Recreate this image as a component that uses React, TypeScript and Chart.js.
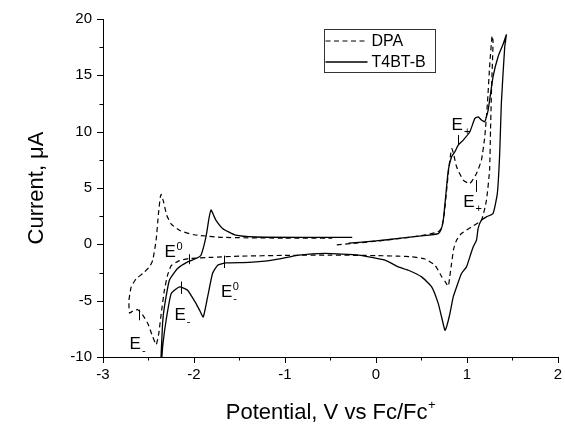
import React, { useEffect, useRef } from 'react';
import { Chart, registerables } from 'chart.js';

Chart.register(...registerables);

// ---------- data ----------
const seriesNames = ['DPA', 'T4BT-B'];

const dpaV = [
  -0.43, -0.2, 0.0, 0.3, 0.55, 0.68, 0.72, 0.75, 0.775, 0.8, 0.82, 0.835, 0.855, 0.887, 0.96, 1.033,
  1.106, 1.16, 1.197, 1.226, 1.252, 1.277, 1.288, 1.272, 1.26, 1.25, 1.215, 1.16, 1.05, 0.94, 0.887,
  0.855, 0.83, 0.81, 0.796, 0.76, 0.722, 0.65, 0.54, 0.394, 0.248, 0.0, -0.5, -1.0, -1.5, -1.8, -2.05,
  -2.16, -2.25, -2.29, -2.325, -2.36, -2.387, -2.415, -2.453, -2.507, -2.56, -2.617, -2.67, -2.708,
  -2.715, -2.69, -2.635, -2.562, -2.489, -2.453, -2.416, -2.39, -2.37, -2.36, -2.335, -2.3, -2.25,
  -2.15, -2.0, -1.686, -1.0, -0.48,
];
const dpaI = [
  -0.05, 0.12, 0.28, 0.55, 0.85, 1.1, 1.4, 2.6, 4.6, 6.6, 7.9, 8.5, 8.0, 6.88, 5.7, 5.4,
  6.29, 7.47, 9.55, 12.5, 16.0, 18.5, 18.0, 14.0, 10.1, 6.6, 3.9, 2.14, 1.55, 0.96, 0.37,
  -0.4, -1.8, -3.0, -3.7, -3.3, -2.85, -1.85, -1.3, -1.11, -1.05, -1.0, -0.95, -0.98, -1.05, -1.15, -1.26,
  -1.45, -1.9, -2.74, -4.07, -6.14, -7.92, -8.9, -8.22, -7.03, -6.3, -5.8, -5.9, -6.1,
  -5.0, -3.78, -3.04, -2.59, -2.0, -1.41, 0.37, 2.74, 4.2, 4.43, 3.8, 2.6, 1.8,
  1.2, 0.85, 0.62, 0.55, 0.55,
];

const t4bV = [
  -0.3, 0.0, 0.25, 0.5, 0.686, 0.72, 0.741, 0.77, 0.796, 0.832, 0.869, 0.905, 0.96, 1.033, 1.088,
  1.124, 1.16, 1.197, 1.234, 1.288, 1.343, 1.4, 1.434, 1.416, 1.379, 1.361, 1.335, 1.288, 1.215,
  1.16, 1.124, 1.106, 1.07, 1.033, 0.996, 0.941, 0.887, 0.85, 0.814, 0.777, 0.759, 0.722, 0.686,
  0.613, 0.503, 0.357, 0.246, 0.1, -0.19, -0.555, -0.847, -1.139, -1.394, -1.65, -1.74, -1.796,
  -1.85, -1.898, -1.935, -1.977, -2.07, -2.16, -2.25, -2.306, -2.343, -2.372, -2.345, -2.325,
  -2.27, -2.18, -2.07, -1.977, -1.923, -1.868, -1.835, -1.813, -1.785, -1.759, -1.686, -1.54,
  -1.32, -0.8, -0.26,
];
const t4bI = [
  0.1, 0.3, 0.52, 0.75, 0.96, 1.4, 2.14, 4.5, 6.59, 7.77, 8.22, 8.8, 9.25, 9.99, 11.18,
  11.32, 11.03, 10.88, 11.92, 14.88, 16.65, 17.8, 18.6, 17.5, 12.5, 8.07, 4.52, 2.74, 2.44,
  2.14, 1.41, 0.37, -0.22, -1.11, -2.0, -2.59, -3.78, -4.67, -6.14, -7.33, -7.63, -6.45, -5.26,
  -3.78, -2.89, -2.3, -2.0, -1.41, -0.96, -0.81, -0.96, -1.41, -1.6, -1.65, -1.85, -2.59,
  -4.67, -6.45, -5.9, -5.26, -4.07, -3.78, -4.37, -6.74, -9.0, -12.0, -7.0, -5.56,
  -3.19, -2.15, -1.56, -1.26, -0.96, 0.66, 2.3, 3.05, 2.6, 2.15, 1.41, 0.81,
  0.65, 0.62, 0.62,
];

const xMin = -3;
const xMax = 2;
const xMajorStep = 1;
const xMinorStep = 0.5;
const yMin = -10;
const yMax = 20;
const yMajorStep = 5;
const yMinorStep = 2.5;

const xTitle = 'Potential, V vs Fc/Fc';
const xTitleSup = '+';
const yTitle = 'Current, \u03bcA';

// peak annotations (data units: label baseline-left position)
const annoText = ['E', 'E', 'E', 'E', 'E', 'E'];
const annoSup = ['0', '', '', '0', '', ''];
const annoSub = ['', '-', '-', '-', '+', '+'];
const annoV = [-2.323, -2.215, -2.708, -1.704, 0.832, 0.96];
const annoI = [-1.12, -6.74, -9.25, -4.67, 10.14, 3.33];

// short vertical markers on the curves (data units)
const markV = [-2.051, -2.142, -2.606, -1.668, 0.905, 1.1];
const markTop = [-0.88, -3.3, -5.79, -1.0, 9.7, 5.7];
const markBottom = [-1.76, -4.4, -6.74, -2.1, 8.8, 4.66];

const FONT = 'Arial, "Liberation Sans", sans-serif';

function zip(xs: number[], ys: number[]) {
  return xs.map((x, i) => ({ x, y: ys[i] }));
}

const minorTicksPlugin = {
  id: 'minorTicks',
  afterDraw(chart: any) {
    const { ctx, chartArea: a, scales } = chart;
    const x = scales.x;
    const y = scales.y;
    ctx.save();
    ctx.strokeStyle = '#000';
    ctx.lineWidth = 1;
    for (let i = 0; yMin + i * yMinorStep <= yMax + 1e-9; i++) {
      const v = yMin + i * yMinorStep;
      const major = Math.abs((v - yMin) / yMajorStep - Math.round((v - yMin) / yMajorStep)) < 1e-6;
      const py = Math.round(y.getPixelForValue(v)) + 0.5;
      ctx.beginPath();
      ctx.moveTo(a.left, py);
      ctx.lineTo(a.left - (major ? 6 : 3.5), py);
      ctx.stroke();
    }
    for (let i = 0; xMin + i * xMinorStep <= xMax + 1e-9; i++) {
      const v = xMin + i * xMinorStep;
      const major = Math.abs((v - xMin) / xMajorStep - Math.round((v - xMin) / xMajorStep)) < 1e-6;
      const px = Math.round(x.getPixelForValue(v)) + 0.5;
      ctx.beginPath();
      ctx.moveTo(px, a.bottom);
      ctx.lineTo(px, a.bottom + (major ? 6 : 3.5));
      ctx.stroke();
    }
    ctx.restore();
  },
};

const annotationsPlugin = {
  id: 'peakAnnotations',
  afterDatasetsDraw(chart: any) {
    const { ctx, scales } = chart;
    const x = scales.x;
    const y = scales.y;
    ctx.save();
    ctx.fillStyle = '#000';
    ctx.strokeStyle = '#000';
    ctx.lineWidth = 1;
    ctx.textBaseline = 'alphabetic';
    ctx.textAlign = 'left';
    annoText.forEach((t, i) => {
      const px = x.getPixelForValue(annoV[i]);
      const py = y.getPixelForValue(annoI[i]);
      ctx.font = `17px ${FONT}`;
      ctx.fillText(t, px, py);
      const w = ctx.measureText(t).width;
      ctx.font = `11px ${FONT}`;
      if (annoSup[i]) ctx.fillText(annoSup[i], px + w + 0.5, py - 7);
      if (annoSub[i]) ctx.fillText(annoSub[i], px + w + 1, py + 5);
    });
    markV.forEach((v, i) => {
      const px = Math.round(x.getPixelForValue(v)) + 0.5;
      ctx.beginPath();
      ctx.moveTo(px, y.getPixelForValue(markTop[i]));
      ctx.lineTo(px, y.getPixelForValue(markBottom[i]));
      ctx.stroke();
    });
    ctx.restore();
  },
};

const legendPlugin = {
  id: 'boxLegend',
  afterDraw(chart: any) {
    const { ctx } = chart;
    const left = 324.5;
    const top = 29.5;
    const w = 111;
    const h = 43;
    ctx.save();
    ctx.strokeStyle = '#333';
    ctx.lineWidth = 1;
    ctx.strokeRect(left, top, w, h);
    chart.data.datasets.forEach((ds: any, i: number) => {
      const ly = top + 11.5 + i * 21;
      ctx.beginPath();
      ctx.setLineDash(ds.borderDash || []);
      ctx.lineWidth = ds.borderWidth;
      ctx.strokeStyle = ds.borderColor;
      ctx.moveTo(left + 1, ly);
      ctx.lineTo(left + 43, ly);
      ctx.stroke();
      ctx.setLineDash([]);
      ctx.fillStyle = '#000';
      ctx.font = `16px ${FONT}`;
      ctx.textBaseline = 'middle';
      ctx.textAlign = 'left';
      ctx.fillText(ds.label, left + 47, ly + 1);
    });
    ctx.restore();
  },
};

const xTitlePlugin = {
  id: 'xTitleSup',
  afterDraw(chart: any) {
    const { ctx, chartArea: a } = chart;
    ctx.save();
    ctx.fillStyle = '#000';
    ctx.font = `22px ${FONT}`;
    const w = ctx.measureText(xTitle).width;
    ctx.font = `13px ${FONT}`;
    const ws = ctx.measureText(xTitleSup).width;
    const cx = (a.left + a.right) / 2;
    const startX = cx - (w + ws) / 2;
    const base = 419;
    ctx.textBaseline = 'alphabetic';
    ctx.textAlign = 'left';
    ctx.font = `22px ${FONT}`;
    ctx.fillText(xTitle, startX, base);
    ctx.font = `13px ${FONT}`;
    ctx.fillText(xTitleSup, startX + w + 0.5, base - 10);
    ctx.restore();
  },
};

export default function App() {
  const ref = useRef<HTMLCanvasElement | null>(null);

  useEffect(() => {
    document.body.style.margin = '0';
    if (!ref.current) return;
    const chart = new Chart(ref.current, {
      type: 'scatter',
      data: {
        datasets: [
          {
            label: seriesNames[0],
            data: zip(dpaV, dpaI),
            showLine: true,
            borderColor: '#000',
            borderWidth: 1.2,
            borderDash: [5, 3.5],
            pointRadius: 0,
            tension: 0.15,
            fill: false,
          },
          {
            label: seriesNames[1],
            data: zip(t4bV, t4bI),
            showLine: true,
            borderColor: '#000',
            borderWidth: 1.3,
            pointRadius: 0,
            tension: 0.15,
            fill: false,
          },
        ],
      },
      options: {
        animation: false,
        responsive: false,
        devicePixelRatio: 1,
        layout: { padding: { left: 0, top: 19, right: 5, bottom: 0 } },
        plugins: {
          legend: { display: false },
          tooltip: { enabled: false },
          title: { display: false },
        },
        scales: {
          x: {
            type: 'linear',
            min: xMin,
            max: xMax,
            afterFit: (s: any) => {
              s.height = 68;
            },
            ticks: {
              stepSize: xMajorStep,
              color: '#000',
              font: { family: FONT, size: 15 },
              padding: 3,
              maxRotation: 0,
            },
            grid: {
              display: true,
              drawOnChartArea: false,
              drawTicks: true,
              tickLength: 6,
              tickColor: 'rgba(0,0,0,0)',
            },
            border: { display: true, color: '#000', width: 1 },
            title: { display: false },
          },
          y: {
            type: 'linear',
            min: yMin,
            max: yMax,
            afterFit: (s: any) => {
              s.width = 103;
            },
            ticks: {
              stepSize: yMajorStep,
              color: '#000',
              font: { family: FONT, size: 15 },
              padding: 5,
            },
            grid: {
              display: true,
              drawOnChartArea: false,
              drawTicks: true,
              tickLength: 6,
              tickColor: 'rgba(0,0,0,0)',
            },
            border: { display: true, color: '#000', width: 1 },
            title: {
              display: true,
              text: yTitle,
              color: '#000',
              font: { family: FONT, size: 22 },
              padding: { top: 24, bottom: 0 },
            },
          },
        },
      },
      plugins: [minorTicksPlugin, annotationsPlugin, legendPlugin, xTitlePlugin],
    } as any);
    return () => chart.destroy();
  }, []);

  return (
    <div style={{ width: 565, height: 425 }}>
      <canvas ref={ref} width={565} height={425} style={{ display: 'block' }} />
    </div>
  );
}
